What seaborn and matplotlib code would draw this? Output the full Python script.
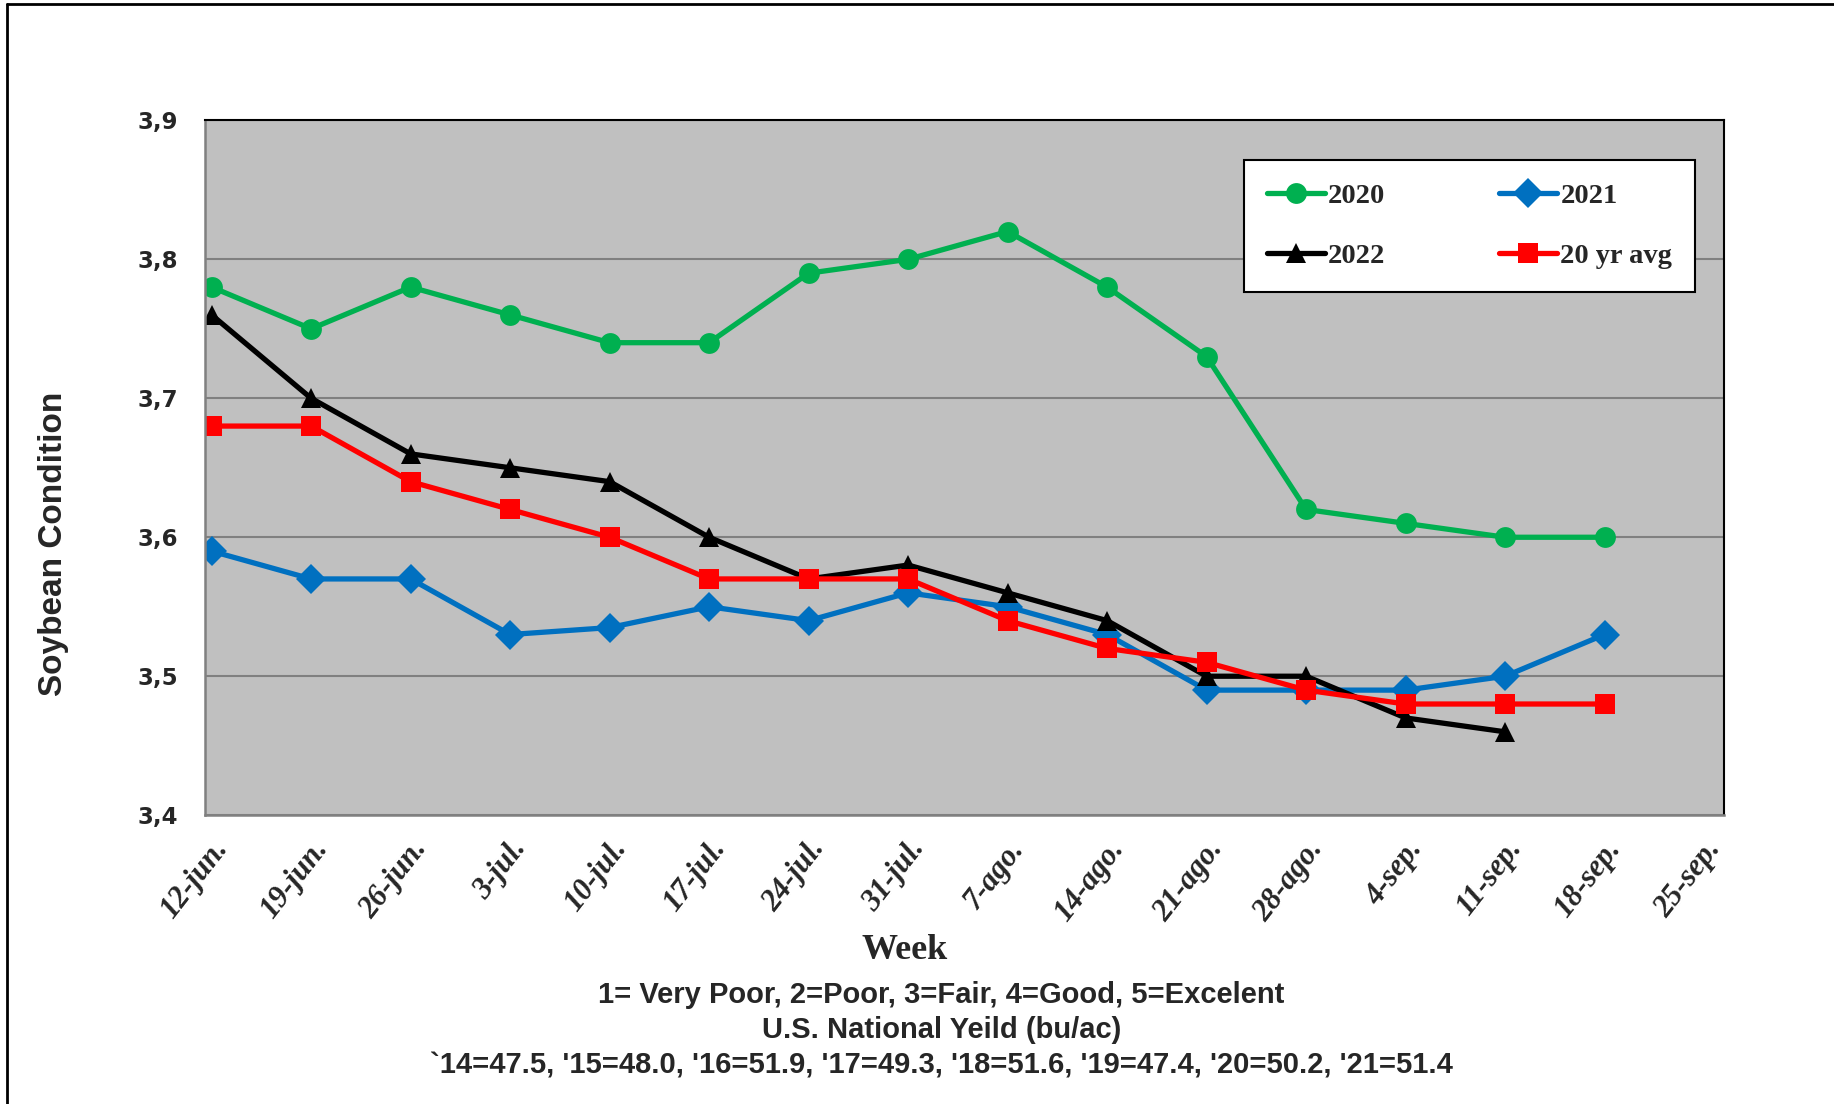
import pandas as pd
import matplotlib
matplotlib.use("Agg")
import matplotlib.pyplot as plt
from matplotlib.lines import Line2D
import seaborn as sns

# weekly soybean condition index
weeks = ['12-jun.', '19-jun.', '26-jun.', '3-jul.', '10-jul.', '17-jul.', '24-jul.', '31-jul.',
         '7-ago.', '14-ago.', '21-ago.', '28-ago.', '4-sep.', '11-sep.', '18-sep.', '25-sep.']

cond_2020 = [3.78, 3.75, 3.78, 3.76, 3.74, 3.74, 3.79, 3.80, 3.82, 3.78, 3.73, 3.62, 3.61, 3.60, 3.60]
cond_2021 = [3.59, 3.57, 3.57, 3.53, 3.535, 3.55, 3.54, 3.56, 3.55, 3.53, 3.49, 3.49, 3.49, 3.50, 3.53]
cond_2022 = [3.76, 3.70, 3.66, 3.65, 3.64, 3.60, 3.57, 3.58, 3.56, 3.54, 3.50, 3.50, 3.47, 3.46]
cond_avg = [3.68, 3.68, 3.64, 3.62, 3.60, 3.57, 3.57, 3.57, 3.54, 3.52, 3.51, 3.49, 3.48, 3.48, 3.48]

y_ticks = [3.4, 3.5, 3.6, 3.7, 3.8, 3.9]
y_tick_labels = ['3,4', '3,5', '3,6', '3,7', '3,8', '3,9']

notes = ["1= Very Poor, 2=Poor, 3=Fair, 4=Good, 5=Excelent",
         "U.S. National Yeild (bu/ac)",
         "`14=47.5, '15=48.0, '16=51.9, '17=49.3, '18=51.6, '19=47.4, '20=50.2, '21=51.4"]

series = {'2020': cond_2020, '2021': cond_2021, '2022': cond_2022, '20 yr avg': cond_avg}
colors = {'2020': '#00B050', '2021': '#0070C0', '2022': '#000000', '20 yr avg': '#FF0000'}
markers = {'2020': 'o', '2021': 'D', '2022': '^', '20 yr avg': 's'}

rows = []
for name, vals in series.items():
    for i, v in enumerate(vals):
        rows.append({'week': i, 'cond': v, 'serie': name})
df = pd.DataFrame(rows)

sns.set_style("white")

fig = plt.figure(figsize=(18.34, 11.04), dpi=100)
ax = fig.add_axes([0.1116, 0.2616, 0.9400 - 0.1116, 0.891 - 0.2616])
ax.set_facecolor('#C0C0C0')

sns.lineplot(data=df, x='week', y='cond', hue='serie', style='serie',
             hue_order=list(series), style_order=list(series),
             palette=colors, markers=markers, dashes=False,
             markersize=15, linewidth=3.8, markeredgewidth=0, ax=ax)

ax.set_xlim(-0.07, 15.2)
ax.set_ylim(3.4, 3.9)
ax.set_yticks(y_ticks)
ax.set_yticklabels(y_tick_labels, fontsize=16.5, fontweight='bold', family='DejaVu Sans')
ax.set_xticks(range(len(weeks)))
ax.set_xticklabels(weeks, rotation=52, ha='right', va='top', rotation_mode='anchor',
                   fontsize=22, fontweight='bold', fontstyle='italic', family='Liberation Serif')
ax.tick_params(axis='both', direction='out', length=9, width=1.5, color='#808080')
ax.tick_params(axis='x', pad=5)
ax.tick_params(axis='y', pad=10)
ax.yaxis.grid(True, color='#808080', linewidth=1.5)
ax.set_axisbelow(True)

for side in ['left', 'bottom']:
    ax.spines[side].set_color('#808080')
    ax.spines[side].set_linewidth(1.8)
for side in ['top', 'right']:
    ax.spines[side].set_color('#000000')
    ax.spines[side].set_linewidth(1.5)

ax.set_xlabel('')
ax.set_ylabel('')

# legend laid out row-wise like the original
handles, labels = ax.get_legend_handles_labels()
lookup = dict(zip(labels, handles))
order = ['2020', '2022', '2021', '20 yr avg']
leg = ax.legend([lookup[k] for k in order], order, ncol=2, loc='upper left',
                bbox_to_anchor=(0.684, 0.943), frameon=True, fancybox=False,
                framealpha=1, edgecolor='black', borderpad=0.8, labelspacing=1.2,
                handlelength=2.05, handletextpad=0.1, columnspacing=4.0, borderaxespad=0,
                prop={'family': 'Liberation Serif', 'weight': 'bold', 'size': 20.5})
leg.get_frame().set_linewidth(1.5)

fig.text(0.4935, 0.139, 'Week', ha='center', va='center', fontsize=26,
         fontweight='bold', family='Liberation Serif')
fig.text(0.029, 0.507, 'Soybean Condition', rotation=90, ha='center', va='center',
         fontsize=24, fontweight='bold', family='Liberation Sans')
for k, line in enumerate(notes):
    fig.text(0.5134, 0.0987 - 0.0317 * k, line, ha='center', va='center',
             fontsize=21, fontweight='bold', family='Liberation Sans')

# outer frame of the chart area
fig.add_artist(Line2D([0.0038, 0.0038], [0.0, 0.9964], color='black', linewidth=2,
                      transform=fig.transFigure))
fig.add_artist(Line2D([0.0038, 1.0], [0.9964, 0.9964], color='black', linewidth=2,
                      transform=fig.transFigure))

fig.savefig('out.png', dpi=100)
